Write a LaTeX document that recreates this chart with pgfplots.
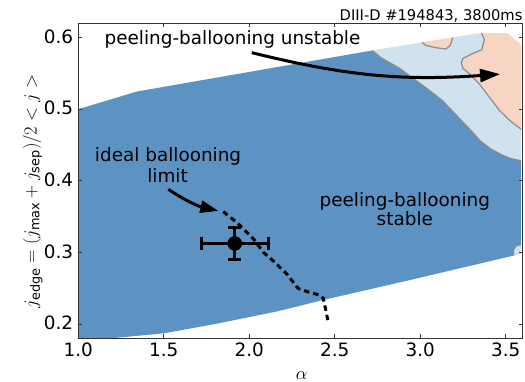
\RequirePackage{fix-cm}
\documentclass[border=0pt]{standalone}
\usepackage{fontspec}
\setmainfont{DejaVu Sans}
\usepackage{pgfplots}
\pgfplotsset{compat=1.18}
\usetikzlibrary{arrows.meta}
\definecolor{dblue}{RGB}{92,147,195}
\definecolor{lblue}{RGB}{207,226,237}
\definecolor{peach}{RGB}{248,213,194}
\definecolor{cgray}{RGB}{140,140,140}
\definecolor{spine}{RGB}{50,50,50}
\begin{document}
\begin{tikzpicture}[font=\fontsize{18.4bp}{21bp}\selectfont]
\begin{axis}[
  at={(78.3bp,43.7bp)}, anchor=south west,
  scale only axis, width=444.5bp, height=315bp,
  xmin=1, xmax=3.6, ymin=0.18, ymax=0.62,
  xtick={1,1.5,2,2.5,3,3.5},
  ytick={0.2,0.3,0.4,0.5,0.6},
  xtick pos=both, ytick pos=both,
  tick align=inside, major tick length=4bp,
  tick style={spine, line width=0.9bp},
  axis line style={spine, line width=1bp},
  axis on top,
  /pgf/number format/.cd, fixed, fixed zerofill, precision=1, assume math mode=true,
  /pgfplots/.cd,
  xticklabel style={anchor=base, inner sep=0pt, yshift=-18.4bp},
  yticklabel style={anchor=base east, inner sep=0pt, xshift=-5bp, yshift=-5.7bp},
]
% full region (light blue)
\addplot[fill=lblue, draw=none] coordinates {
 (1.0,0.1757) (1.19,0.18) (1.5,0.187) (1.8,0.2) (2.17,0.218) (2.44,0.234) (2.95,0.262) (3.59,0.298)
 (3.59,0.59) (3.51,0.606) (3.34,0.606) (2.726,0.5824) (1.342,0.5246) (1.0,0.5)} --cycle;
% stable region (dark blue)
\addplot[fill=dblue, draw=none] coordinates {
 (1.0,0.1757) (1.19,0.18) (1.5,0.187) (1.8,0.2) (2.17,0.218) (2.44,0.234) (2.95,0.262)
 (3.545,0.2955) (3.545,0.303) (3.56,0.309) (3.59,0.311)
 (3.59,0.428) (3.53,0.431) (3.47,0.437) (3.41,0.445) (3.35,0.456) (3.29,0.472) (3.21,0.492)
 (3.13,0.512) (3.05,0.527) (2.97,0.541) (2.88,0.557) (2.77,0.572) (2.72,0.582)
 (1.342,0.5246) (1.0,0.5)} --cycle;
\addplot[cgray, line width=1.2bp] coordinates {
 (3.59,0.428) (3.53,0.431) (3.47,0.437) (3.41,0.445) (3.35,0.456) (3.29,0.472) (3.21,0.492)
 (3.13,0.512) (3.05,0.527) (2.97,0.541) (2.88,0.557) (2.77,0.572) (2.72,0.582)};
\addplot[cgray, line width=1.2bp] coordinates {
 (3.545,0.2955) (3.545,0.303) (3.56,0.309) (3.59,0.311)};
% unstable region (peach)
\addplot[fill=peach, draw=none] coordinates {
 (3.36,0.606) (3.375,0.597) (3.36,0.583) (3.30,0.577) (3.25,0.571) (3.24,0.565) (3.25,0.557)
 (3.29,0.549) (3.35,0.534) (3.41,0.515) (3.465,0.498) (3.525,0.484) (3.59,0.472)
 (3.59,0.59) (3.51,0.606)} --cycle;
\addplot[cgray, line width=1.2bp] coordinates {
 (3.36,0.606) (3.375,0.597) (3.36,0.583) (3.30,0.577) (3.25,0.571) (3.24,0.565) (3.25,0.557)
 (3.29,0.549) (3.35,0.534) (3.41,0.515) (3.465,0.498) (3.525,0.484) (3.59,0.472)};
\addplot[fill=peach, draw=none] coordinates {
 (3.01,0.5933) (3.035,0.589) (3.09,0.586) (3.15,0.584) (3.175,0.589) (3.185,0.596) (3.19,0.6002)} --cycle;
\addplot[cgray, line width=1.2bp] coordinates {
 (3.01,0.5933) (3.035,0.589) (3.09,0.586) (3.15,0.584) (3.175,0.589) (3.185,0.596) (3.19,0.6002)};
% ideal ballooning limit
\addplot[black, line width=3bp, dash pattern=on 5.5bp off 4bp] coordinates {
 (1.848,0.357) (1.936,0.34) (2.024,0.319) (2.083,0.30) (2.141,0.288) (2.219,0.27)
 (2.285,0.25) (2.30,0.248) (2.415,0.24) (2.433,0.236) (2.46,0.205)};
% measured point
\addplot[black, line width=3bp, mark=*, mark size=7bp, mark options={line width=0.5bp},
  error bars/.cd, x dir=both, x explicit, y dir=both, y explicit,
  error bar style={line width=3bp, black},
  error mark options={rotate=90, mark size=6.5bp, line width=3bp, black}]
  coordinates {(1.915,0.3125) +- (0.195,0.022)};
% annotations
\draw[line width=3bp, -{Triangle[length=20bp,width=13bp]}] (axis cs:2.015,0.579) to[bend right=9] (axis cs:3.467,0.549);
\draw[line width=3bp, -{Triangle[length=18bp,width=12bp]}] (axis cs:1.527,0.388) to[bend right=10] (axis cs:1.819,0.358);
\node[anchor=base, inner sep=0pt] at (axis cs:1.902,0.5908) {peeling-ballooning unstable};
\node[anchor=base, inner sep=0pt] at (axis cs:1.525,0.4269) {ideal ballooning};
\node[anchor=base, inner sep=0pt] at (axis cs:1.522,0.3976) {limit};
\node[anchor=base, inner sep=0pt] at (axis cs:2.910,0.3637) {peeling-ballooning};
\node[anchor=base, inner sep=0pt] at (axis cs:2.910,0.3372) {stable};
\end{axis}
\node[rotate=90, anchor=base, inner sep=0pt] at (36.5bp,190.5bp) {$j_{\mathrm{edge}} = (j_{\mathrm{max}} + j_{\mathrm{sep}})/2<j>$};
\node[anchor=base, inner sep=0pt] at (301.7bp,2.3bp) {$\alpha$};
\node[anchor=base east, inner sep=0pt, font=\fontsize{14.7bp}{17bp}\selectfont] at (522.7bp,361.3bp) {DIII-D \#194843, 3800ms};
\pgfresetboundingbox
\useasboundingbox (0,0) rectangle (525bp,382bp);
\end{tikzpicture}
\end{document}
